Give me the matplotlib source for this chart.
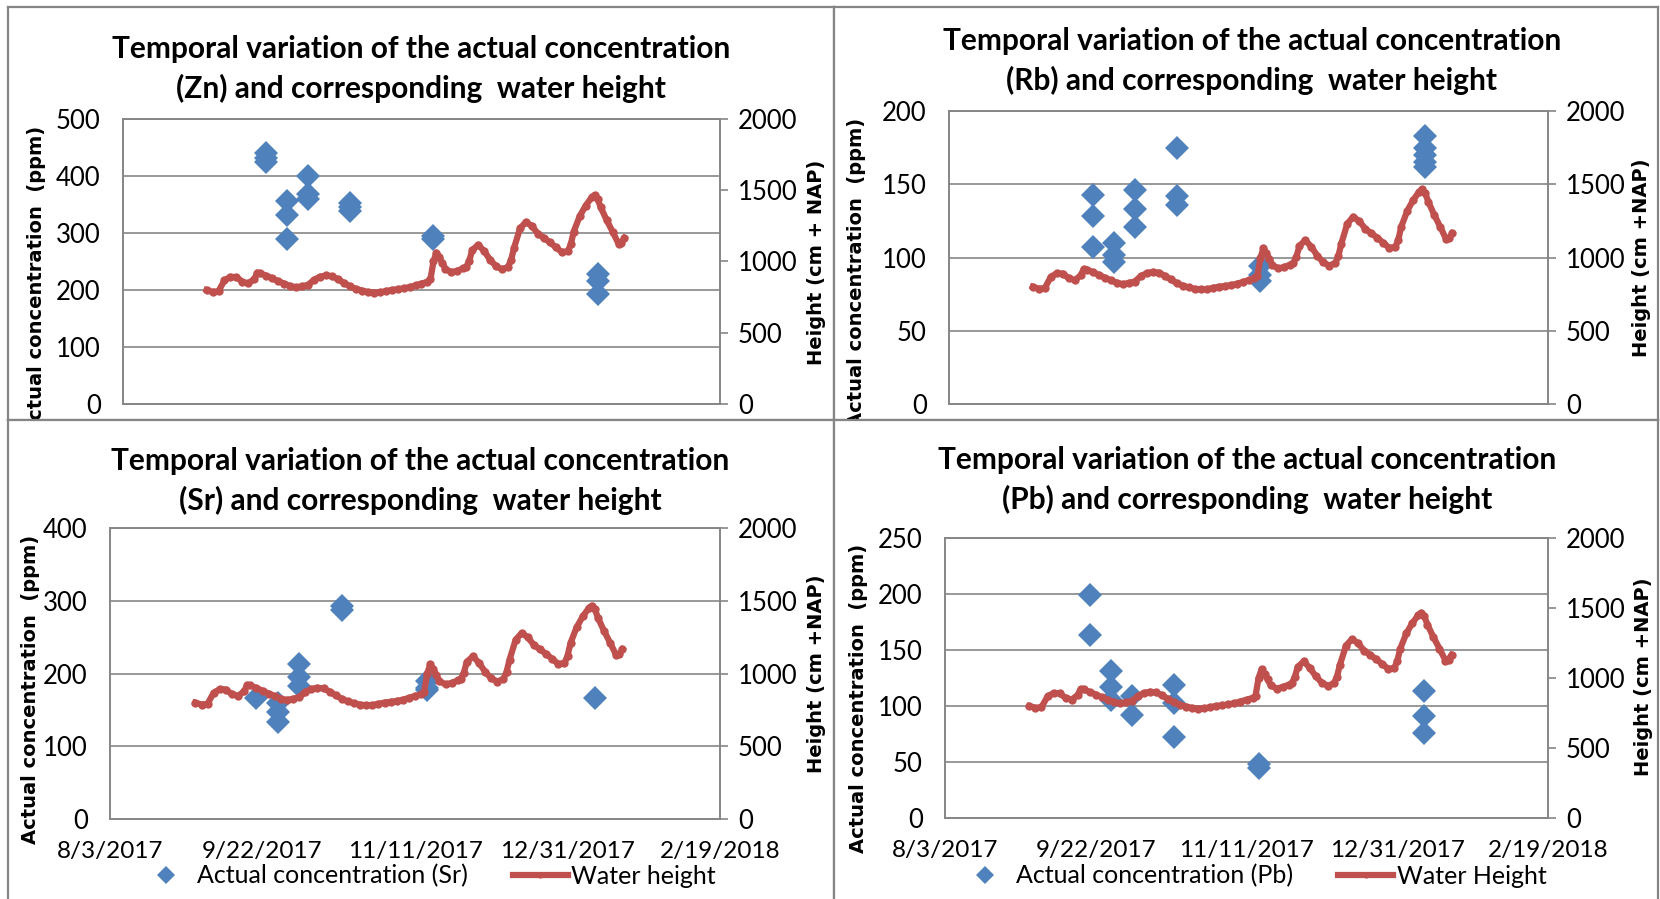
import datetime as dt

import matplotlib
matplotlib.use("Agg")
import matplotlib.pyplot as plt
import matplotlib.dates as mdates
from matplotlib.ticker import FuncFormatter, MultipleLocator

# ---- data ----
start_date = dt.datetime(2017, 8, 3)
end_date = dt.datetime(2018, 2, 19)

sample_dates = ["2017-09-20", "2017-09-27", "2017-10-04", "2017-10-18", "2017-11-15", "2018-01-09"]

# concentrations (ppm), one list per sampling date
zn_values = [[440, 432, 424], [357, 331, 290], [400, 368, 360], [352, 345, 338], [295, 290], [228, 215, 193]]
rb_values = [[143, 128, 107], [110, 102, 97], [146, 133, 121], [175, 142, 136], [94, 88, 84], [183, 175, 170, 165, 162]]
sr_values = [[167], [160, 147, 134], [213, 195, 183], [293, 287], [190, 180, 177], [167]]
pb_values = [[199, 163], [131, 117, 105], [109, 92], [119, 103, 72], [48, 45], [113, 91, 76]]

# water height (cm + NAP), days after 8/3/2017
water_day = [28, 30, 32, 34, 36, 38, 40, 42, 44, 45, 46, 48, 50, 52, 54, 56, 58, 60, 62, 64,
             66, 68, 70, 72, 74, 76, 78, 80, 82, 84, 86, 88, 90, 92, 94, 96, 98, 100, 102, 103,
             104, 105, 106, 107, 108, 110, 112, 114, 115, 116, 117, 119, 121, 123, 125, 127, 129, 130, 131, 133,
             135, 137, 139, 141, 143, 145, 147, 149, 150, 151, 153, 155, 157, 158, 159, 160, 162, 164, 166, 167,
             168]
water_height = [800, 786, 792, 868, 893, 890, 858, 846, 878, 922, 918, 900, 882, 862, 845, 828, 818, 826, 836, 872,
                893, 902, 897, 876, 850, 826, 808, 796, 786, 782, 783, 792, 800, 805, 811, 820, 832, 845, 857, 875,
                1000, 1062, 1030, 990, 948, 925, 935, 952, 962, 1005, 1080, 1118, 1072, 1012, 966, 945, 962, 1010, 1095, 1232,
                1278, 1248, 1196, 1165, 1135, 1100, 1066, 1072, 1120, 1210, 1318, 1392, 1450, 1466, 1440, 1382, 1292, 1210, 1125, 1132,
                1165]

W, H = 1660, 899
BLUE = "#4F81BD"
RED = "#C0504D"
GRAY = "#868686"
BORDER = "#858585"

plt.rcParams["font.family"] = ["Lato", "DejaVu Sans"]

fig = plt.figure(figsize=(W / 100, H / 100), dpi=100)


def px_box(left, top, right, bottom):
    return [left / W, 1 - bottom / H, (right - left) / W, (bottom - top) / H]


def fxy(x, y):
    return (x / W, 1 - y / H)


def date_label(v, pos):
    d = mdates.num2date(v)
    return f"{d.month}/{d.day}/{d.year}"


x0 = mdates.date2num(start_date)
x1 = mdates.date2num(end_date)
xticks = [x0 + 50 * k for k in range(5)]
sample_x = [mdates.date2num(dt.datetime.strptime(s, "%Y-%m-%d")) for s in sample_dates]
water_x = [x0 + d for d in water_day]


def panel(z, frame, plot, values, ymax, ystep, title, title_c, ylab_c, rlabel, rlab_c,
          bottom=False, conc_label=None, water_label=None, legend_c=None):
    fr = fig.add_axes(px_box(*frame))
    fr.set_zorder(z)
    fr.set_xticks([])
    fr.set_yticks([])
    for s in fr.spines.values():
        s.set_color(BORDER)
        s.set_linewidth(1.6)
    fr.text(*fxy(*title_c), title, transform=fig.transFigure, ha="center", va="center",
            fontsize=21.5, fontweight="bold", linespacing=1.42)

    ax = fig.add_axes(px_box(*plot))
    ax.set_zorder(z + 1)
    xs, ys = [], []
    for xd, vals in zip(sample_x, values):
        for v in vals:
            xs.append(xd)
            ys.append(v)
    h1, = ax.plot(xs, ys, ls="none", marker="D", ms=12, color=BLUE, mew=0, label=conc_label)
    ax.set_xlim(x0, x1)
    ax.set_ylim(0, ymax)
    ax.yaxis.set_major_locator(MultipleLocator(ystep))
    ax.set_xticks(xticks)
    ax.xaxis.set_major_formatter(FuncFormatter(date_label))
    ax.grid(axis="y", color=GRAY, lw=1.2)
    ax.set_axisbelow(True)
    ax.tick_params(axis="y", length=0, pad=16, labelsize=18.5)
    ax.tick_params(axis="x", length=0, pad=16, labelsize=17.5, labelbottom=bottom)
    for s in ax.spines.values():
        s.set_color(GRAY)
        s.set_linewidth(1.2)
    ax.text(*fxy(*ylab_c), "Actual concentration  (ppm)", transform=fig.transFigure, rotation=90,
            ha="center", va="center", family="DejaVu Sans", fontweight="bold", fontsize=14)

    tw = ax.twinx()
    tw.set_zorder(z + 2)
    h2, = tw.plot(water_x, water_height, color=RED, lw=4.5, marker="o", ms=6, mew=0, label=water_label)
    tw.set_ylim(0, 2000)
    tw.yaxis.set_major_locator(MultipleLocator(500))
    tw.tick_params(axis="y", length=6, width=1.2, color=GRAY, pad=7, labelsize=18.5)
    for s in tw.spines.values():
        s.set_color(GRAY)
        s.set_linewidth(1.2)
    tw.text(*fxy(*rlab_c), rlabel, transform=fig.transFigure, rotation=90,
            ha="center", va="center", family="DejaVu Sans", fontweight="bold", fontsize=14)

    if legend_c is not None:
        ax.legend([h1, h2], [conc_label, water_label], loc="center",
                  bbox_to_anchor=fxy(*legend_c), bbox_transform=fig.transFigure,
                  ncol=2, frameon=False, fontsize=18, handlelength=2.2,
                  handletextpad=0.15, columnspacing=1.8, markerscale=0.75,
                  borderpad=0.1)


panel(0, (8, 7, 834, 420), (123, 119, 720, 404), zn_values, 500, 100,
      "Temporal variation of the actual concentration\n(Zn) and corresponding  water height",
      (421, 69), (37, 280), "Height (cm + NAP)", (816, 262))
panel(3, (834, 7, 1658, 420), (949, 111, 1548, 404), rb_values, 200, 50,
      "Temporal variation of the actual concentration\n(Rb) and corresponding  water height",
      (1252, 61), (856, 272), "Height (cm +NAP)", (1641, 258))
panel(6, (8, 420, 834, 910), (110, 528, 720, 819), sr_values, 400, 100,
      "Temporal variation of the actual concentration\n(Sr) and corresponding  water height",
      (420, 481), (31, 689), "Height (cm +NAP)", (816, 674), bottom=True,
      conc_label="Actual concentration (Sr)", water_label="Water height", legend_c=(427, 876))
panel(9, (834, 420, 1658, 910), (945, 538, 1548, 818), pb_values, 250, 50,
      "Temporal variation of the actual concentration\n(Pb) and corresponding  water height",
      (1247, 480), (858, 698), "Height (cm +NAP)", (1643, 677), bottom=True,
      conc_label="Actual concentration (Pb)", water_label="Water Height", legend_c=(1252, 876))

fig.savefig("out.png", dpi=100)
